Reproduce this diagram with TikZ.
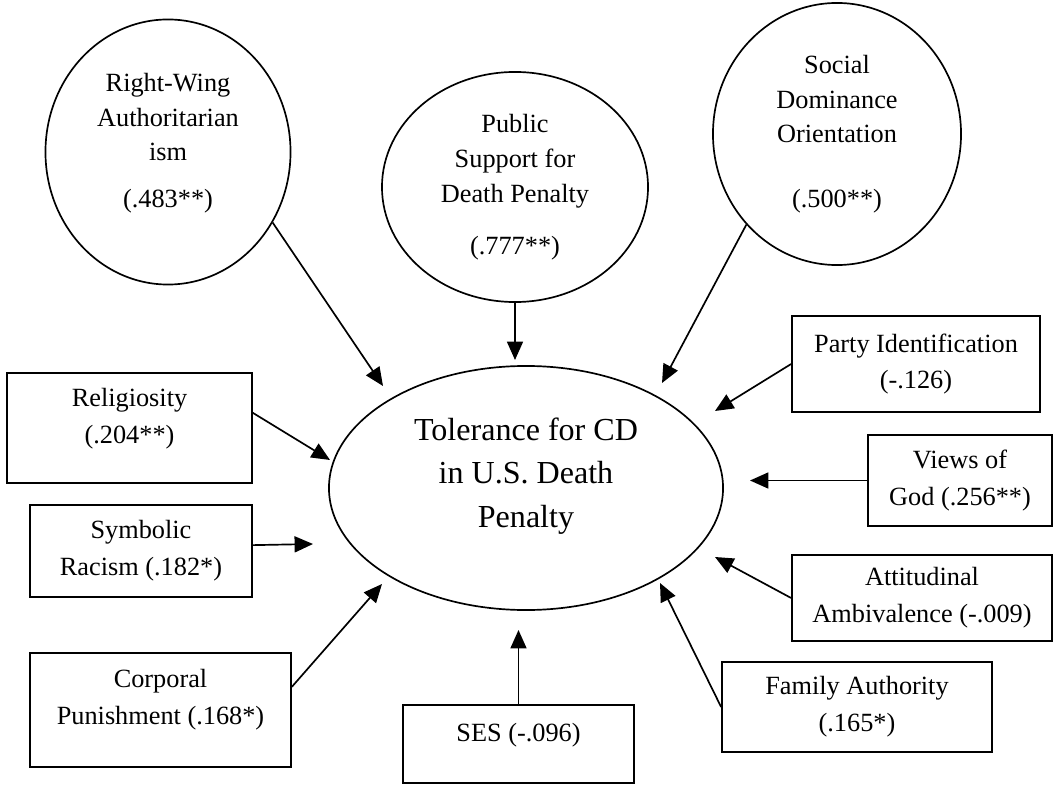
\documentclass[tikz,border=0pt]{standalone}
\usepackage{fontspec}
\setmainfont{Liberation Serif}
\usepackage{tikz}
\usetikzlibrary{shapes.geometric, arrows.meta, positioning, calc}

\begin{document}
\begin{tikzpicture}[x=0.025cm, y=-0.025cm,
  latent/.style={draw, ellipse, line width=1.2pt, inner sep=0pt, align=center, font=\fontsize{18.7}{24.8}\selectfont},
  observed/.style={draw, rectangle, line width=1.2pt, inner sep=0pt, align=center, font=\fontsize{18.7}{26.2}\selectfont},
  effect/.style={line width=1.2pt, -{Triangle[length=0.46cm, width=0.4cm]}}]
  \useasboundingbox (0,0) rectangle (1059,787);

  % Outcome
  \node[latent, minimum width=9.85cm, minimum height=6.1cm, text depth=22pt,
        font=\fontsize{22.8}{31}\selectfont] (tol) at (526,488) {Tolerance for CD\\in U.S. Death\\Penalty};

  % Attitude scales (top)
  \node[latent, minimum width=6.125cm, minimum height=6.625cm, text depth=17pt] (rwa) at (168,152) {Right-Wing\\Authoritarian\\ism\\[8pt](.483**)};
  \node[latent, minimum width=6.65cm, minimum height=5.75cm] (pub) at (515,187) {Public\\Support for\\Death Penalty\\[12pt](.777**)};
  \node[latent, minimum width=6.2cm, minimum height=6.55cm] (sdo) at (837,134) {Social\\Dominance\\Orientation\\[21pt](.500**)};

  % Left predictors
  \node[observed, minimum width=6.125cm, minimum height=2.75cm, text depth=17pt] (rel) at (129.5,428) {Religiosity\\(.204**)};
  \node[observed, minimum width=5.55cm, minimum height=2.3cm] (sym) at (141,551) {Symbolic\\Racism (.182*)};
  \node[observed, minimum width=6.525cm, minimum height=2.85cm, text depth=19pt] (cor) at (160.5,710) {Corporal\\Punishment (.168*)};
  \node[observed, minimum width=5.775cm, minimum height=1.95cm, text depth=17pt] (ses) at (518.5,744) {SES (-.096)};

  % Right predictors
  \node[observed, minimum width=6.2cm, minimum height=2.4cm] (pid) at (916,364) {Party Identification\\(-.126)};
  \node[observed, minimum width=4.6cm, minimum height=2.275cm] (god) at (960,480.5) {Views of\\God (.256**)};
  \node[observed, minimum width=6.5cm, minimum height=2.15cm] (amb) at (922,598) {Attitudinal\\Ambivalence (-.009)};
  \node[observed, minimum width=6.75cm, minimum height=2.25cm] (fam) at (857,707) {Family Authority\\(.165*)};

  % Arrow tips near the outcome
  \coordinate (rwa tip) at (383,386);
  \coordinate (pub tip) at (515,360);
  \coordinate (sdo tip) at (662,383);
  \coordinate (pid tip) at (715,411);
  \coordinate (god tip) at (750,480.5);
  \coordinate (amb tip) at (715,557);
  \coordinate (fam tip) at (660,583);
  \coordinate (ses tip) at (518.5,630);
  \coordinate (cor tip) at (382,584);
  \coordinate (sym tip) at (313,544);
  \coordinate (rel tip) at (330,460);

  % Paths
  \draw[effect] (rwa.-34.3) -- (rwa tip);
  \draw[effect] (pub.south) -- (pub tip);
  \draw[effect] (sdo.-135.3) -- (sdo tip);
  \draw[effect] (pid.west) -- (pid tip);
  \draw[effect] (god.west) -- (god tip);
  \draw[effect] (amb.west) -- (amb tip);
  \draw[effect] (fam.west) -- (fam tip);
  \draw[effect] (ses.north) -- (ses tip);
  \draw[effect] (cor.10.8) -- (cor tip);
  \draw[effect] (sym.3.6) -- (sym tip);
  \draw[effect] (rel.7.4) -- (rel tip);
\end{tikzpicture}
\end{document}
